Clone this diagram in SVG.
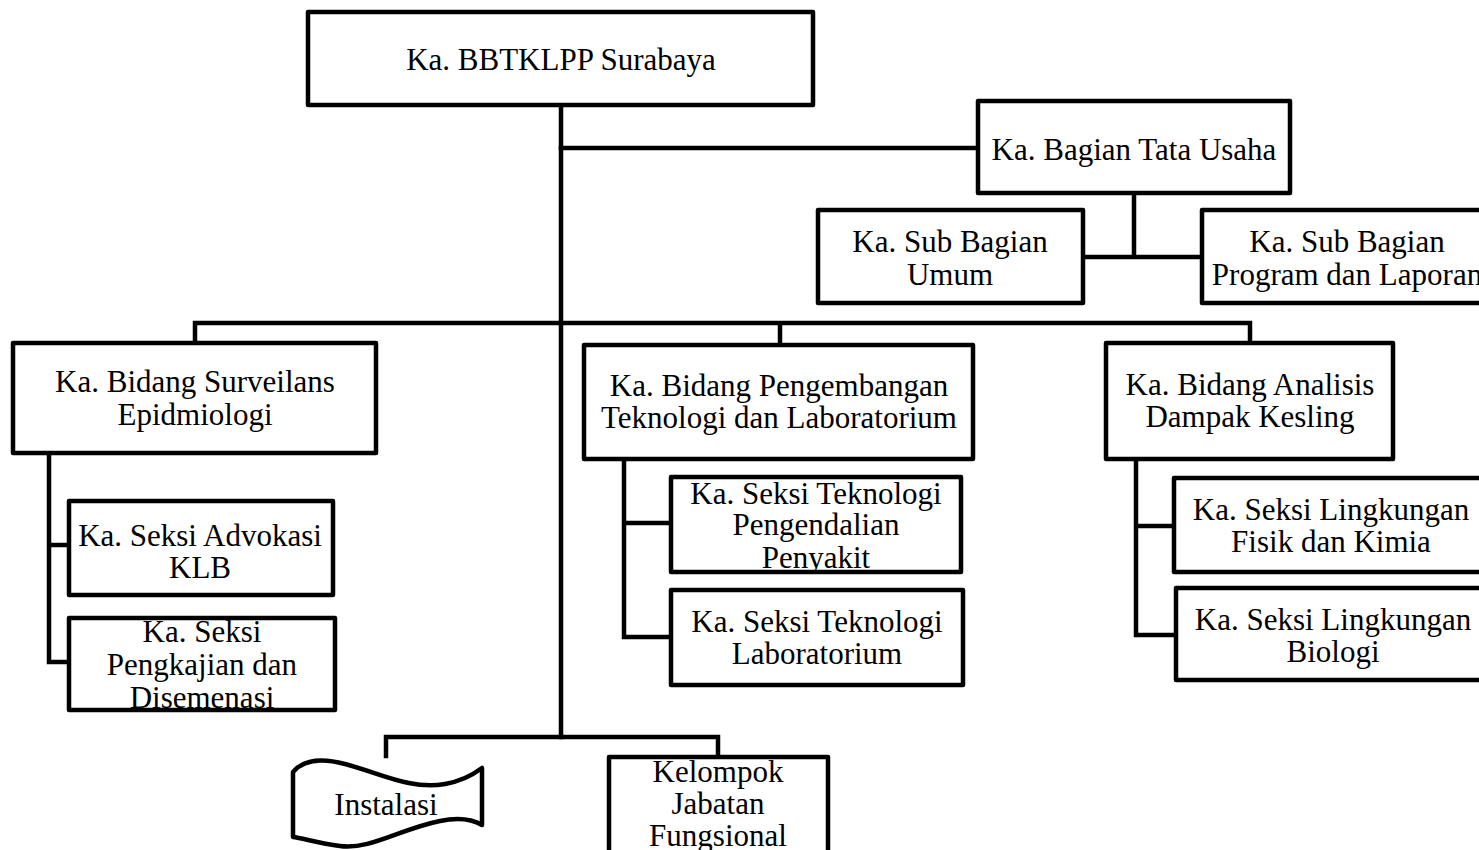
<svg xmlns="http://www.w3.org/2000/svg" width="1479" height="850" viewBox="0 0 1479 850">
<style>
.box{fill:#fff;stroke:none}
.bd{fill:none;stroke:#000;stroke-width:4.5;stroke-linejoin:round}
.t{font-family:"Liberation Serif","Times New Roman",serif;font-size:31px;fill:#000;text-anchor:middle}
.c{fill:none;stroke:#000;stroke-width:4.5;stroke-linecap:square}
</style>
<defs>
<clipPath id="cpPk"><rect x="71" y="620" width="262" height="88"/></clipPath>
<clipPath id="cpTp"><rect x="673" y="479" width="286" height="91"/></clipPath>
<clipPath id="cpKj"><rect x="611" y="759" width="215" height="95"/></clipPath>
</defs>
<rect width="1479" height="850" fill="#fff"/>
<g id="connectors">
<path class="c" d="M561,105 V737"/>
<path class="c" d="M561,148 H978"/>
<path class="c" d="M1134,193 V257 M1083,257 H1202"/>
<path class="c" d="M195,343 V323 H1250 V343 M780,323 V345"/>
<path class="c" d="M49,453 V662 H69 M49,545 H69"/>
<path class="c" d="M624,459 V637 H671 M624,523 H671"/>
<path class="c" d="M1136,459 V635 H1176 M1136,526 H1174"/>
<path class="c" d="M386,756 V737 H718 V757"/>
</g>
<g id="n-kepala">
<rect class="box" x="308" y="12" width="505" height="93"/>
<text class="t" x="561" y="70">Ka. BBTKLPP Surabaya</text>
<rect class="bd" x="308" y="12" width="505" height="93"/>
</g>
<g id="n-tatausaha">
<rect class="box" x="978" y="101" width="312" height="92"/>
<text class="t" x="1134" y="160">Ka. Bagian Tata Usaha</text>
<rect class="bd" x="978" y="101" width="312" height="92"/>
</g>
<g id="n-umum">
<rect class="box" x="818" y="210" width="265" height="93"/>
<text class="t" x="950" y="252">Ka. Sub Bagian</text>
<text class="t" x="950" y="285">Umum</text>
<rect class="bd" x="818" y="210" width="265" height="93"/>
</g>
<g id="n-program">
<rect class="box" x="1202" y="210" width="290" height="93"/>
<text class="t" x="1347" y="252">Ka. Sub Bagian</text>
<text class="t" x="1347" y="285">Program dan Laporan</text>
<rect class="bd" x="1202" y="210" width="290" height="93"/>
</g>
<g id="n-surveilans">
<rect class="box" x="13" y="343" width="363" height="110"/>
<text class="t" x="195" y="392">Ka. Bidang Surveilans</text>
<text class="t" x="195" y="425">Epidmiologi</text>
<rect class="bd" x="13" y="343" width="363" height="110"/>
</g>
<g id="n-advokasi">
<rect class="box" x="69" y="501" width="264" height="94"/>
<text class="t" x="200" y="546">Ka. Seksi Advokasi</text>
<text class="t" x="200" y="578">KLB</text>
<rect class="bd" x="69" y="501" width="264" height="94"/>
</g>
<g id="n-pengkajian">
<rect class="box" x="69" y="618" width="266" height="92"/>
<g clip-path="url(#cpPk)">
<text class="t" x="202" y="642">Ka. Seksi</text>
<text class="t" x="202" y="675">Pengkajian dan</text>
<text class="t" x="202" y="708">Disemenasi</text>
</g>
<rect class="bd" x="69" y="618" width="266" height="92"/>
</g>
<g id="n-pengembangan">
<rect class="box" x="584" y="345" width="389" height="114"/>
<text class="t" x="779" y="396">Ka. Bidang Pengembangan</text>
<text class="t" x="779" y="428">Teknologi dan Laboratorium</text>
<rect class="bd" x="584" y="345" width="389" height="114"/>
</g>
<g id="n-pengendalian">
<rect class="box" x="671" y="477" width="290" height="95"/>
<g clip-path="url(#cpTp)">
<text class="t" x="816" y="504">Ka. Seksi Teknologi</text>
<text class="t" x="816" y="535">Pengendalian</text>
<text class="t" x="816" y="568">Penyakit</text>
</g>
<rect class="bd" x="671" y="477" width="290" height="95"/>
</g>
<g id="n-laboratorium">
<rect class="box" x="671" y="590" width="292" height="95"/>
<text class="t" x="817" y="632">Ka. Seksi Teknologi</text>
<text class="t" x="817" y="664">Laboratorium</text>
<rect class="bd" x="671" y="590" width="292" height="95"/>
</g>
<g id="n-analisis">
<rect class="box" x="1106" y="343" width="287" height="116"/>
<text class="t" x="1250" y="395">Ka. Bidang Analisis</text>
<text class="t" x="1250" y="427">Dampak Kesling</text>
<rect class="bd" x="1106" y="343" width="287" height="116"/>
</g>
<g id="n-fisik">
<rect class="box" x="1174" y="478" width="314" height="94"/>
<text class="t" x="1331" y="520">Ka. Seksi Lingkungan</text>
<text class="t" x="1331" y="552">Fisik dan Kimia</text>
<rect class="bd" x="1174" y="478" width="314" height="94"/>
</g>
<g id="n-biologi">
<rect class="box" x="1176" y="588" width="314" height="92"/>
<text class="t" x="1333" y="630">Ka. Seksi Lingkungan</text>
<text class="t" x="1333" y="662">Biologi</text>
<rect class="bd" x="1176" y="588" width="314" height="92"/>
</g>
<g id="n-instalasi">
<path d="M293,772 C303,760 322,758 345,764 C380,773 410,790 445,784 C462,781 474,774 482,768 L482,825 C470,818 455,818 440,821 C400,829 370,850 340,846 C318,843 302,838 293,837 Z" fill="#fff" stroke="#000" stroke-width="4.5" stroke-linejoin="round"/>
<text class="t" x="386" y="815">Instalasi</text>
</g>
<g id="n-fungsional">
<rect class="box" x="609" y="757" width="219" height="100"/>
<g clip-path="url(#cpKj)">
<text class="t" x="718" y="782">Kelompok</text>
<text class="t" x="718" y="814">Jabatan</text>
<text class="t" x="718" y="846">Fungsional</text>
</g>
<rect class="bd" x="609" y="757" width="219" height="100"/>
</g>
</svg>
